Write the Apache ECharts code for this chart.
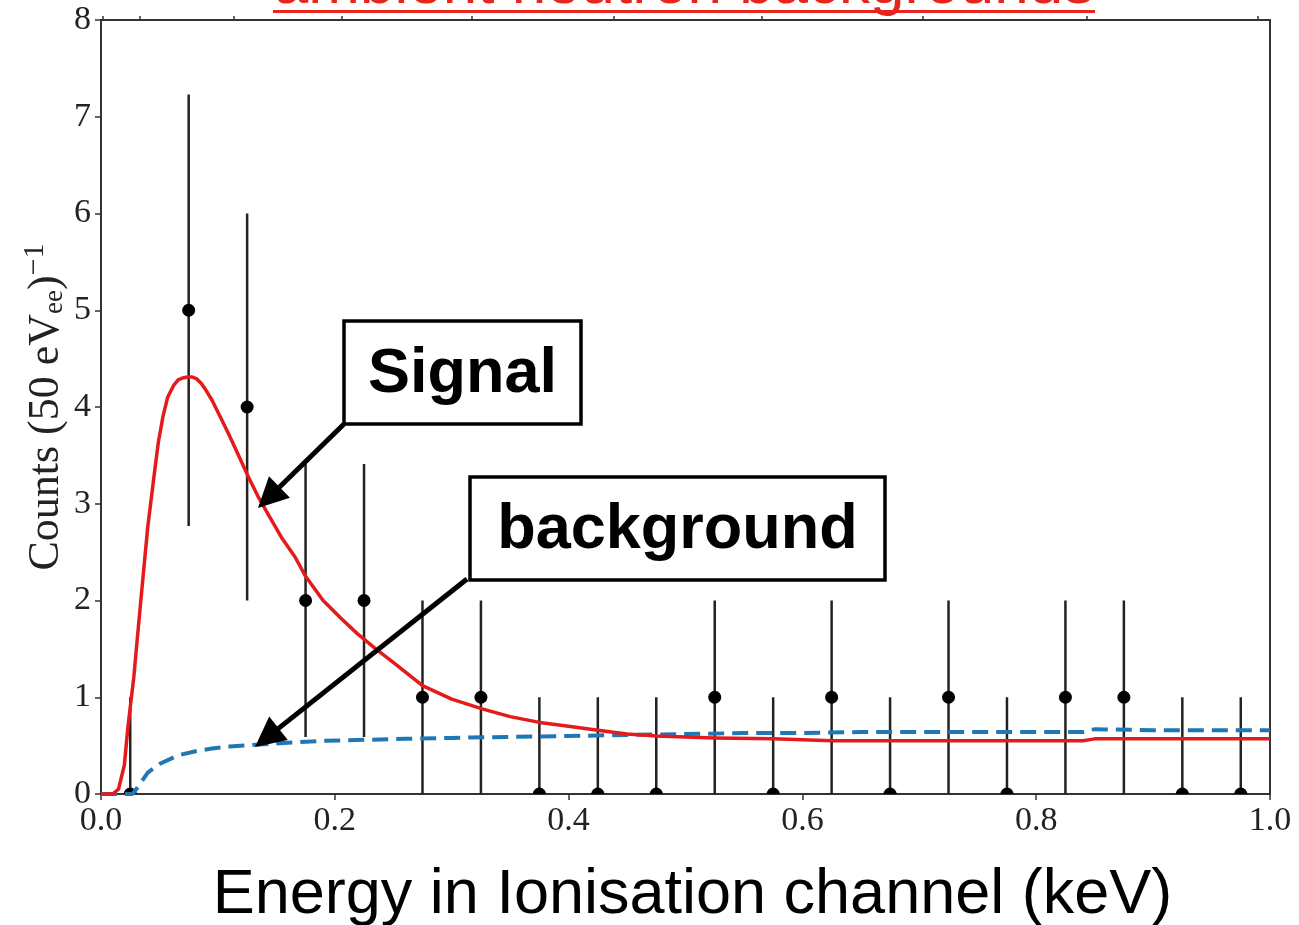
<!DOCTYPE html>
<html>
<head>
<meta charset="utf-8">
<script src="https://cdn.jsdelivr.net/npm/echarts@6/dist/echarts.min.js"></script>
<style>html,body{margin:0;padding:0;background:#fff;}#chart{width:1299px;height:925px;}</style>
</head>
<body>
<div id="chart"></div>
<script>
// ---- data ----
const binCenters = [0.025,0.075,0.125,0.175,0.225,0.275,0.325,0.375,0.425,0.475,0.525,0.575,0.625,0.675,0.725,0.775,0.825,0.875,0.925,0.975];
const counts     = [0,5,4,2,2,1,1,0,0,0,1,0,1,0,1,0,1,1,0,0];
const errLow     = [0,2.77,2.0,0.59,0.59,0,0,0,0,0,0,0,0,0,0,0,0,0,0,0];
const errHigh    = [1,7.23,6.0,3.41,3.41,2,2,1,1,1,2,1,2,1,2,1,2,2,1,1];

const signalX = [0,0.010,0.015,0.020,0.023,0.028,0.032,0.036,0.040,0.045,0.049,0.053,0.057,0.062,0.066,0.070,0.074,0.078,0.082,0.086,0.090,0.095,0.102,0.110,0.118,0.126,0.135,0.145,0.155,0.166,0.175,0.190,0.205,0.219,0.235,0.250,0.275,0.300,0.326,0.350,0.375,0.400,0.425,0.450,0.475,0.500,0.525,0.575,0.625,0.700,0.800,0.840,0.850,0.900,1.000];
const signalY = [0,0,0.05,0.30,0.69,1.20,1.73,2.25,2.76,3.25,3.63,3.90,4.10,4.22,4.28,4.30,4.31,4.31,4.29,4.24,4.17,4.07,3.90,3.70,3.49,3.28,3.06,2.85,2.64,2.45,2.25,2.00,1.82,1.66,1.50,1.36,1.12,0.98,0.88,0.80,0.74,0.70,0.66,0.62,0.60,0.59,0.58,0.57,0.55,0.55,0.55,0.55,0.57,0.57,0.57];

const bgX = [0,0.027,0.032,0.040,0.050,0.066,0.080,0.095,0.110,0.132,0.160,0.190,0.225,0.260,0.300,0.350,0.400,0.450,0.500,0.550,0.600,0.650,0.700,0.750,0.800,0.840,0.850,0.900,1.000];
const bgY = [0,0,0.08,0.22,0.31,0.40,0.44,0.47,0.49,0.51,0.53,0.55,0.56,0.57,0.58,0.59,0.60,0.61,0.62,0.63,0.63,0.64,0.64,0.64,0.64,0.64,0.67,0.66,0.66];

const xTicks = [0,0.2,0.4,0.6,0.8,1.0];
const topTicks = [0.0017,0.0334,0.1138,0.2062,0.3174,0.4388,0.5654,0.7032,0.8435,0.9897];

const titleText = 'ambient neutron backgrounds';
const xName = 'Energy in Ionisation channel (keV)';
const yName = 'Counts (50 eV{sub|ee}){sup|−1}';
const signalLabel = 'Signal';
const bgLabel = 'background';

// ---- build ----
const chart = echarts.init(document.getElementById('chart'), null, {renderer:'canvas'});
const errData = binCenters.map((x,i)=>[x,counts[i],errLow[i],errHigh[i]]);
const sigData = signalX.map((x,i)=>[x,signalY[i]]);
const bData = bgX.map((x,i)=>[x,bgY[i]]);
const serif = '"Liberation Serif", "Times New Roman", serif';

function arrow(x1,y1,x2,y2){
  const dx=x2-x1, dy=y2-y1, L=Math.sqrt(dx*dx+dy*dy);
  const ux=dx/L, uy=dy/L, hl=30, hw=15;
  const bx=x2-ux*hl, by=y2-uy*hl;
  return [
    {type:'line', shape:{x1:x1,y1:y1,x2:bx+ux*2,y2:by+uy*2}, style:{stroke:'#000',lineWidth:5}, z:100},
    {type:'polygon', shape:{points:[[x2,y2],[bx-uy*hw,by+ux*hw],[bx+uy*hw,by-ux*hw]]}, style:{fill:'#000'}, z:100}
  ];
}
function box(x,y,w,h,text){
  return [
    {type:'rect', shape:{x:x,y:y,width:w,height:h}, style:{fill:'#fff',stroke:'#000',lineWidth:3.5}, z:100},
    {type:'text', x:x+w/2, y:y+h/2+2, style:{text:text, fill:'#000', font:'bold 63px "Liberation Sans", Arial, sans-serif', align:'center', verticalAlign:'middle'}, z:101}
  ];
}

const option = {
  backgroundColor:'#fff',
  animation:false,
  grid:{left:101,right:29,top:20,bottom:131,show:true,borderColor:'#333',borderWidth:2,containLabel:false,outerBoundsMode:'none'},
  xAxis:[{
    type:'value', min:0, max:1, interval:0.2, position:'bottom',
    name:xName, nameLocation:'middle', nameGap:70, nameMoveOverlap:false,
    nameTextStyle:{fontFamily:'"Liberation Sans", Arial, sans-serif', fontSize:63, color:'#000', padding:[0,0,0,14]},
    axisLine:{show:true,lineStyle:{color:'#333',width:2}},
    axisTick:{show:true,length:6,lineStyle:{color:'#333',width:1.5}},
    axisLabel:{fontFamily:serif, fontSize:34, color:'#222', margin:10, formatter:v=>v.toFixed(1), customValues:xTicks},
    splitLine:{show:false}
  },{
    type:'value', min:0, max:1, position:'top',
    axisLine:{show:true,lineStyle:{color:'#333',width:2}},
    axisTick:{show:true,length:4,lineStyle:{color:'#333',width:1.5},customValues:topTicks},
    axisLabel:{show:false},
    splitLine:{show:false}
  }],
  yAxis:{
    type:'value', min:0, max:8, interval:1,
    name:yName, nameLocation:'middle', nameGap:29, nameRotate:90, nameMoveOverlap:false,
    nameTextStyle:{fontFamily:serif, fontSize:44, color:'#222',
      rich:{sub:{fontSize:27, fontFamily:serif, color:'#222', padding:[18,0,0,0]},
            sup:{fontSize:30, fontFamily:serif, color:'#222', padding:[0,0,22,0]}}},
    axisLine:{show:true,lineStyle:{color:'#333',width:2}},
    axisTick:{show:true,length:6,lineStyle:{color:'#333',width:1.5}},
    axisLabel:{fontFamily:serif, fontSize:34, color:'#222', margin:10},
    splitLine:{show:false}
  },
  series:[
    {
      type:'custom', name:'data', data:errData, clip:true, z:2,
      renderItem:function(params,api){
        const x=api.value(0), y=api.value(1), lo=api.value(2), hi=api.value(3);
        const p=api.coord([x,y]), pl=api.coord([x,lo]), ph=api.coord([x,hi]);
        return {type:'group', children:[
          {type:'line', shape:{x1:pl[0],y1:pl[1],x2:ph[0],y2:ph[1]}, style:{stroke:'#222',lineWidth:2.5}},
          {type:'circle', shape:{cx:p[0],cy:p[1],r:6.5}, style:{fill:'#000'}}
        ]};
      }
    },
    {type:'line', name:'Signal', data:sigData, symbol:'none', z:4, clip:true,
     lineStyle:{color:'#e41a1c', width:3.5, join:'round'}},
    {type:'line', name:'background', data:bData, symbol:'none', z:3, clip:true,
     lineStyle:{color:'#1f77b4', width:4, type:[16,8]}}
  ],
  graphic:[
    {type:'text', x:684, y:-14, style:{text:titleText, fill:'#e8251c', font:'62px "Liberation Sans", Arial, sans-serif', align:'center', verticalAlign:'middle'}, z:100},
    {type:'rect', shape:{x:273,y:10,width:822,height:3}, style:{fill:'#e8251c'}, z:100}
  ].concat(box(344,321,237,103,signalLabel))
   .concat(box(470,477,415,103,bgLabel))
   .concat(arrow(344,424,258,508))
   .concat(arrow(467,579,255,747))
};
chart.setOption(option);
</script>
</body>
</html>
